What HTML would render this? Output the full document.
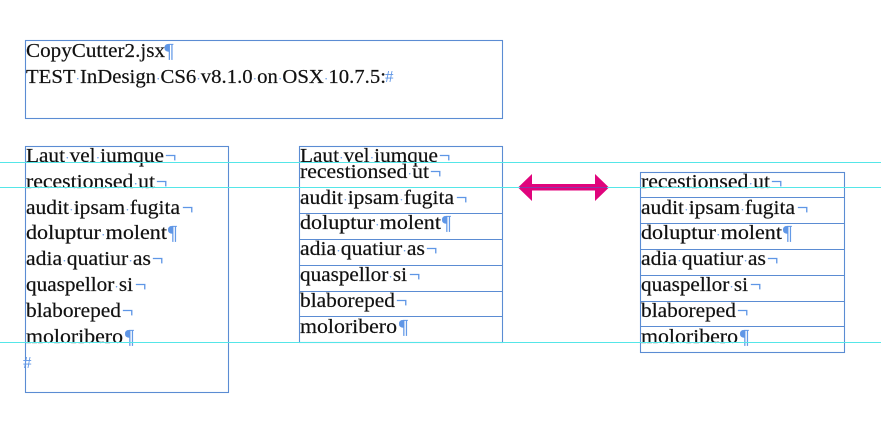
<!DOCTYPE html>
<html><head><meta charset="utf-8"><style>
html,body{margin:0;padding:0;background:#fff;width:881px;height:439px;overflow:hidden}
svg{display:block}
text{font-family:"Liberation Serif",serif;font-size:20px;fill:#111;stroke:#111;stroke-width:.2px}
.d{fill:#5f96e6;stroke:none;font-size:13px}
.m{fill:#5f96e6;stroke:#5f96e6;stroke-width:.3px}
.h{font-size:17px;stroke-width:0}
.b{fill:none;stroke:#5b8cd3;stroke-width:1.1}
</style></head><body>
<svg width="881" height="439" viewBox="0 0 881 439" xmlns="http://www.w3.org/2000/svg">
<rect class="b" x="25.5" y="40.5" width="477" height="78"/>
<rect class="b" x="25.5" y="146.5" width="203" height="246"/>
<rect class="b" x="299.5" y="146.5" width="203" height="196"/>
<path class="b" d="M299.5 187.5H502.5M299.5 213.5H502.5M299.5 239.5H502.5M299.5 265.5H502.5M299.5 291.5H502.5M299.5 316.5H502.5"/>
<rect class="b" x="640.5" y="172.5" width="204" height="180"/>
<path class="b" d="M640.5 197.5H844.5M640.5 223.5H844.5M640.5 249.5H844.5M640.5 275.5H844.5M640.5 301.5H844.5M640.5 326.5H844.5"/>

<g transform="translate(0,0.8)">
<text x="26" y="56" textLength="139" lengthAdjust="spacingAndGlyphs">CopyCutter2.jsx</text><text class="m" x="164.5" y="56">¶</text>
<text x="26" y="82" textLength="360" lengthAdjust="spacingAndGlyphs">TEST<tspan class="d">·</tspan>InDesign<tspan class="d">·</tspan>CS6<tspan class="d">·</tspan>v8.1.0<tspan class="d">·</tspan>on<tspan class="d">·</tspan>OSX<tspan class="d">·</tspan>10.7.5:</text><text class="m h" x="385" y="81">#</text>

<g>
<text x="26" y="161" textLength="138" lengthAdjust="spacingAndGlyphs">Laut<tspan class="d">·</tspan>vel<tspan class="d">·</tspan>iumque</text><text class="m" x="165" y="161">¬</text>
<text x="26" y="187" textLength="129" lengthAdjust="spacingAndGlyphs">recestionsed<tspan class="d">·</tspan>ut</text><text class="m" x="156" y="187">¬</text>
<text x="26" y="213" textLength="154" lengthAdjust="spacingAndGlyphs">audit<tspan class="d">·</tspan>ipsam<tspan class="d">·</tspan>fugita</text><text class="m" x="182" y="213">¬</text>
<text x="26" y="238" textLength="141" lengthAdjust="spacingAndGlyphs">doluptur<tspan class="d">·</tspan>molent</text><text class="m" x="168" y="238">¶</text>
<text x="26" y="264" textLength="125" lengthAdjust="spacingAndGlyphs">adia<tspan class="d">·</tspan>quatiur<tspan class="d">·</tspan>as</text><text class="m" x="152" y="264">¬</text>
<text x="26" y="290" textLength="107" lengthAdjust="spacingAndGlyphs">quaspellor<tspan class="d">·</tspan>si</text><text class="m" x="135" y="290">¬</text>
<text x="26" y="316" textLength="95" lengthAdjust="spacingAndGlyphs">blaboreped</text><text class="m" x="122" y="316">¬</text>
<text x="26" y="342" textLength="97" lengthAdjust="spacingAndGlyphs">moloribero</text><text class="m" x="125" y="342">¶</text>
<text class="m h" x="23" y="367">#</text>
</g>

<g>
<text x="300" y="161" textLength="138" lengthAdjust="spacingAndGlyphs">Laut<tspan class="d">·</tspan>vel<tspan class="d">·</tspan>iumque</text><text class="m" x="439" y="161">¬</text>
<text x="300" y="177" textLength="129" lengthAdjust="spacingAndGlyphs">recestionsed<tspan class="d">·</tspan>ut</text><text class="m" x="430" y="177">¬</text>
<text x="300" y="203" textLength="154" lengthAdjust="spacingAndGlyphs">audit<tspan class="d">·</tspan>ipsam<tspan class="d">·</tspan>fugita</text><text class="m" x="456" y="203">¬</text>
<text x="300" y="228" textLength="141" lengthAdjust="spacingAndGlyphs">doluptur<tspan class="d">·</tspan>molent</text><text class="m" x="442" y="228">¶</text>
<text x="300" y="254" textLength="125" lengthAdjust="spacingAndGlyphs">adia<tspan class="d">·</tspan>quatiur<tspan class="d">·</tspan>as</text><text class="m" x="426" y="254">¬</text>
<text x="300" y="280" textLength="107" lengthAdjust="spacingAndGlyphs">quaspellor<tspan class="d">·</tspan>si</text><text class="m" x="409" y="280">¬</text>
<text x="300" y="306" textLength="95" lengthAdjust="spacingAndGlyphs">blaboreped</text><text class="m" x="396" y="306">¬</text>
<text x="300" y="332" textLength="97" lengthAdjust="spacingAndGlyphs">moloribero</text><text class="m" x="399" y="332">¶</text>
</g>

<g>
<text x="641" y="187" textLength="129" lengthAdjust="spacingAndGlyphs">recestionsed<tspan class="d">·</tspan>ut</text><text class="m" x="771" y="187">¬</text>
<text x="641" y="213" textLength="154" lengthAdjust="spacingAndGlyphs">audit<tspan class="d">·</tspan>ipsam<tspan class="d">·</tspan>fugita</text><text class="m" x="797" y="213">¬</text>
<text x="641" y="238" textLength="141" lengthAdjust="spacingAndGlyphs">doluptur<tspan class="d">·</tspan>molent</text><text class="m" x="783" y="238">¶</text>
<text x="641" y="264" textLength="125" lengthAdjust="spacingAndGlyphs">adia<tspan class="d">·</tspan>quatiur<tspan class="d">·</tspan>as</text><text class="m" x="767" y="264">¬</text>
<text x="641" y="290" textLength="107" lengthAdjust="spacingAndGlyphs">quaspellor<tspan class="d">·</tspan>si</text><text class="m" x="750" y="290">¬</text>
<text x="641" y="316" textLength="95" lengthAdjust="spacingAndGlyphs">blaboreped</text><text class="m" x="737" y="316">¬</text>
<text x="641" y="342" textLength="97" lengthAdjust="spacingAndGlyphs">moloribero</text><text class="m" x="740" y="342">¶</text>
</g>
</g>

<path fill="#e0047c" d="M518 187.5L532 174V184H595V174L609 187.5L595 201V190.5H532V201Z"/>
<rect x="0" y="162" width="881" height="1" fill="#55e6e8"/>
<rect x="0" y="187" width="881" height="1" fill="#55e6e8"/>
<rect x="0" y="342" width="881" height="1" fill="#55e6e8"/>
<rect x="520" y="187" width="87" height="1" fill="#8b3aa6"/>
</svg>
</body></html>
